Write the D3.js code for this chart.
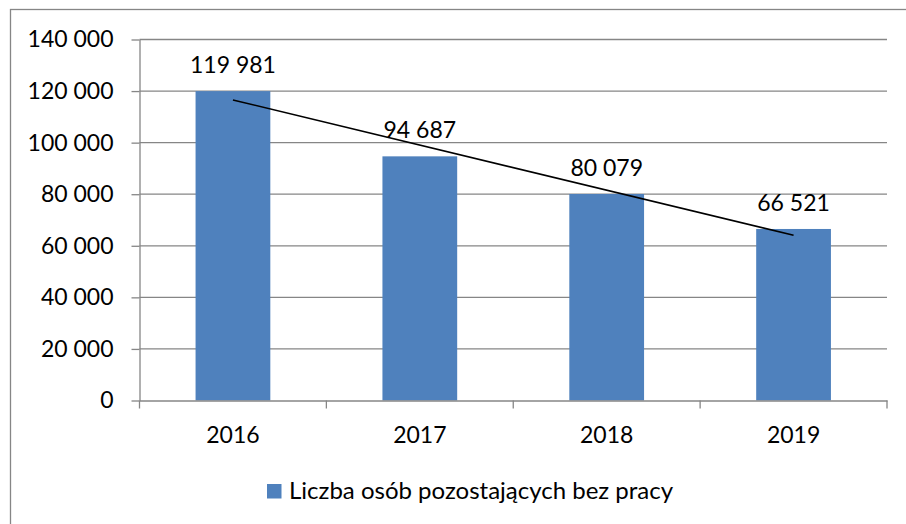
<!DOCTYPE html>
<html><head><meta charset="utf-8">
<script src="https://cdn.jsdelivr.net/npm/d3@7"></script>
<style>body{margin:0;background:#fff}svg{display:block}</style>
</head><body>
<svg id="c" width="906" height="524"></svg>
<script>
const categories = ["2016", "2017", "2018", "2019"];
const values = [119981, 94687, 80079, 66521];
const seriesName = "Liczba osób pozostających bez pracy";
const yTicks = [0, 20000, 40000, 60000, 80000, 100000, 120000, 140000];
// linear trendline (start at first category, end at last)
const trendCats = ["2016", "2019"];
const trendValues = [116565, 64069];

(function () {
const svg = d3.select("#c");
const font = "Lato, 'Open Sans', sans-serif";
const fs = 23;
const pLeft = 139.5, pRight = 887, pTop = 39.5, pBottom = 400.5;

const fmt = v => d3.format(",")(v).replace(/,/g, " ");

// outer chart border
svg.append("rect").attr("x", 10.5).attr("y", 9.5).attr("width", 906).attr("height", 530)
  .attr("fill", "#fff").attr("stroke", "#868686").attr("stroke-width", 1.3);

const x = d3.scaleBand().domain(categories).range([pLeft, pRight]).padding(0);
const y = d3.scaleLinear().domain([0, 140000]).range([pBottom, pTop]);

// gridlines
svg.append("g").selectAll("line").data(yTicks.filter(d => d > 0)).join("line")
  .attr("x1", pLeft).attr("x2", pRight)
  .attr("y1", d => y(d)).attr("y2", d => y(d))
  .attr("stroke", "#868686").attr("stroke-width", 1.3);

// bars
const bw = x.bandwidth() * 0.4;
svg.append("g").selectAll("rect").data(values).join("rect")
  .attr("x", (d, i) => x(categories[i]) + x.bandwidth() / 2 - bw / 2)
  .attr("width", bw)
  .attr("y", d => y(d))
  .attr("height", d => y(0) - y(d))
  .attr("fill", "#4F81BD");

// y axis
const yAxis = d3.axisLeft(y).tickValues(yTicks).tickSize(8).tickSizeOuter(0).tickPadding(18).tickFormat(fmt);
const gy = svg.append("g").attr("transform", `translate(${pLeft},0)`).call(yAxis);
gy.select(".domain").attr("stroke", "#868686").attr("stroke-width", 1.3);
gy.selectAll(".tick line").attr("stroke", "#868686").attr("stroke-width", 1.3);
gy.selectAll(".tick text").attr("font-family", font).attr("font-size", fs).attr("fill", "#000");

// x axis
const xAxis = d3.axisBottom(x).tickSize(0).tickSizeOuter(0).tickPadding(26);
const gx = svg.append("g").attr("transform", `translate(0,${pBottom})`).call(xAxis);
gx.select(".domain").attr("stroke", "#868686").attr("stroke-width", 1.3);
gx.selectAll(".tick text").attr("font-family", font).attr("font-size", fs).attr("fill", "#000");
// category boundary ticks
const bounds = categories.map(c => x(c)).concat([x(categories[categories.length - 1]) + x.bandwidth()]);
svg.append("g").selectAll("line").data(bounds).join("line")
  .attr("x1", d => d).attr("x2", d => d).attr("y1", pBottom).attr("y2", pBottom + 8)
  .attr("stroke", "#868686").attr("stroke-width", 1.3);

// data labels
svg.append("g").selectAll("text").data(values).join("text")
  .attr("x", (d, i) => x(categories[i]) + x.bandwidth() / 2)
  .attr("y", d => y(d) - 18)
  .attr("text-anchor", "middle")
  .attr("font-family", font).attr("font-size", fs).attr("fill", "#000")
  .text(fmt);

// trendline
const line = d3.line()
  .x((d, i) => x(trendCats[i]) + x.bandwidth() / 2)
  .y(d => y(d));
svg.append("path").datum(trendValues).attr("d", line)
  .attr("fill", "none").attr("stroke", "#000").attr("stroke-width", 1.6);

// legend
svg.append("rect").attr("x", 267).attr("y", 484).attr("width", 14.5).attr("height", 14.5).attr("fill", "#4F81BD");
svg.append("text").attr("x", 289).attr("y", 498.5)
  .attr("font-family", font).attr("font-size", 24).attr("fill", "#000")
  .text(seriesName);
})();
</script>
</body></html>
